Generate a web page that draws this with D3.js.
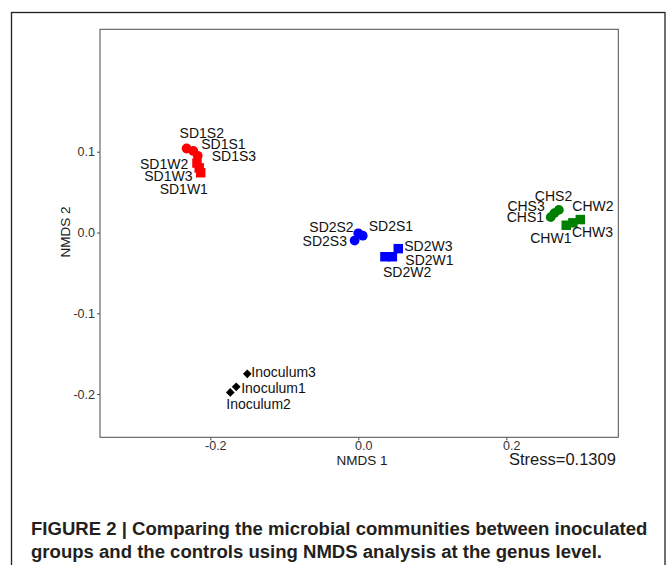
<!DOCTYPE html>
<html>
<head>
<meta charset="utf-8">
<script src="https://cdn.jsdelivr.net/npm/d3@7"></script>
<style>
    body { margin: 0; background: #fff; }
    svg { display: block; font-family: "Liberation Sans", Arial, Helvetica, sans-serif; }
</style>
</head>
<body>
<div id="chart"></div>
<script>
// NMDS scores
const sampleNames = ["SD1S2", "SD1S1", "SD1S3", "SD1W2", "SD1W3", "SD1W1",
                     "SD2S2", "SD2S1", "SD2S3", "SD2W3", "SD2W1", "SD2W2",
                     "CHS2", "CHS3", "CHS1", "CHW2", "CHW3", "CHW1",
                     "Inoculum3", "Inoculum1", "Inoculum2"];
const sampleGroup = ["SD1", "SD1", "SD1", "SD1", "SD1", "SD1",
                     "SD2", "SD2", "SD2", "SD2", "SD2", "SD2",
                     "CH", "CH", "CH", "CH", "CH", "CH",
                     "Inoculum", "Inoculum", "Inoculum"];
const sampleType = ["S", "S", "S", "W", "W", "W",
                    "S", "S", "S", "W", "W", "W",
                    "S", "S", "S", "W", "W", "W",
                    "I", "I", "I"];
const nmds1 = [-0.232, -0.223, -0.217, -0.218, -0.215, -0.213,
               0.000, 0.006, -0.005, 0.054, 0.046, 0.036,
               0.271, 0.265, 0.260, 0.300, 0.290, 0.281,
               -0.150, -0.165, -0.173];
const nmds2 = [0.104, 0.101, 0.095, 0.086, 0.080, 0.074,
               -0.001, -0.004, -0.010, -0.020, -0.030, -0.030,
               0.028, 0.024, 0.019, 0.016, 0.012, 0.009,
               -0.175, -0.191, -0.198];
const xTicks = [-0.2, 0.0, 0.2];
const yTicks = [0.1, 0.0, -0.1, -0.2];
const stressText = "Stress=0.1309";
const captionLines = ["FIGURE 2 | Comparing the microbial communities between inoculated",
                      "groups and the controls using NMDS analysis at the genus level."];

// label placement (pixels from the point, like a repel layout)
const labelDx = [-7, 8, 14, -57, -55, -41,
                 -49, 6, -52, 6, 13, -2,
                 -24, -47, -44, -8, -1, -36,
                 4, 5, -4];
const labelDy = [-10, -2, 5, 6, 13, 21,
                 -1, -5, 5, 2, 8, 20,
                 -9, -2, 5, -9, 14, 18,
                 3, 6, 17];

const groupColor = { SD1: "#ff0000", SD2: "#0000ff", CH: "#008000", Inoculum: "#000000" };

const width = 671, height = 565;
const plot = { left: 100, right: 618.3, top: 29.3, bottom: 437.3 };

const svg = d3.select("#chart")
    .append("svg")
    .attr("width", width)
    .attr("height", height);

svg.append("rect")
    .attr("width", width)
    .attr("height", height)
    .attr("fill", "#fff");

// outer figure frame
svg.append("rect")
    .attr("x", 11.5)
    .attr("y", 12.5)
    .attr("width", 653.5)
    .attr("height", 600)
    .attr("fill", "none")
    .attr("stroke", "#231f20")
    .attr("stroke-width", 1.3);

let x = d3.scaleLinear()
    .domain([-0.34905, 0.35135])
    .range([plot.left, plot.right]);

let y = d3.scaleLinear()
    .domain([-0.25356, 0.25158])
    .range([plot.bottom, plot.top]);

// panel box
svg.append("rect")
    .attr("x", plot.left)
    .attr("y", plot.top)
    .attr("width", plot.right - plot.left)
    .attr("height", plot.bottom - plot.top)
    .attr("fill", "none")
    .attr("stroke", "#4d4d4d")
    .attr("stroke-width", 1);

// plain hyphen for negatives, as in the printed figure
let tickFmt = d => d.toFixed(1);

let xAxis = d3.axisBottom(x)
    .tickValues(xTicks)
    .tickSize(3)
    .tickPadding(2)
    .tickFormat(tickFmt);

let yAxis = d3.axisLeft(y)
    .tickValues(yTicks)
    .tickSize(3)
    .tickPadding(2)
    .tickFormat(tickFmt);

let gx = svg.append("g")
    .attr("class", "axis x-axis")
    .attr("transform", "translate(0," + plot.bottom + ")")
    .call(xAxis);

let gy = svg.append("g")
    .attr("class", "axis y-axis")
    .attr("transform", "translate(" + plot.left + ",0)")
    .call(yAxis);

[gx, gy].forEach(g => {
    g.select(".domain").remove();
    g.selectAll(".tick line").attr("stroke", "#4d4d4d");
    g.selectAll(".tick text")
        .style("font-size", "12.5px")
        .style("font-family", "'Liberation Sans', Arial, sans-serif")
        .attr("fill", "#333");
});
gx.selectAll(".tick text").attr("dx", 5);
gx.selectAll(".tick text").attr("y", 4);
gy.selectAll(".tick text").attr("x", -5);

// axis titles
svg.append("text")
    .attr("x", 362)
    .attr("y", 465)
    .attr("text-anchor", "middle")
    .style("font-size", "13.5px")
    .attr("fill", "#1a1a1a")
    .text("NMDS 1");

svg.append("text")
    .attr("transform", "translate(65,232) rotate(-90)")
    .attr("text-anchor", "middle")
    .attr("dy", "0.35em")
    .style("font-size", "13.5px")
    .attr("fill", "#1a1a1a")
    .text("NMDS 2");

svg.append("text")
    .attr("x", 509)
    .attr("y", 465)
    .style("font-size", "16.5px")
    .attr("fill", "#1a1a1a")
    .text(stressText);

// points
let samples = sampleNames.map((name, i) => ({
    name: name,
    group: sampleGroup[i],
    type: sampleType[i],
    x: nmds1[i],
    y: nmds2[i],
    dx: labelDx[i],
    dy: labelDy[i]
}));

let symbolFor = {
    S: d3.symbol().type(d3.symbolCircle).size(75),
    W: d3.symbol().type(d3.symbolSquare).size(90),
    I: d3.symbol().type(d3.symbolSquare).size(38)
};

svg.selectAll("path.point")
    .data(samples)
    .enter()
    .append("path")
    .attr("class", "point")
    .attr("d", d => symbolFor[d.type]())
    .attr("transform", d => "translate(" + x(d.x) + "," + y(d.y) + ")" + (d.type === "I" ? " rotate(45)" : ""))
    .attr("fill", d => groupColor[d.group]);

svg.selectAll("text.point-label")
    .data(samples)
    .enter()
    .append("text")
    .attr("class", "point-label")
    .attr("x", d => x(d.x) + d.dx)
    .attr("y", d => y(d.y) + d.dy)
    .style("font-size", "14px")
    .attr("fill", "#111")
    .text(d => d.name);

// caption
let caption = svg.append("g")
    .attr("class", "caption")
    .style("font-weight", "bold")
    .attr("fill", "#231f20");

let captionText = caption.selectAll("text")
    .data(captionLines)
    .enter()
    .append("text")
    .attr("x", 31)
    .attr("y", (d, i) => 535 + i * 23)
    .style("font-size", "16px")
    .text(d => d);

// fit the first line to the printed width
let firstLen = captionText.node().getComputedTextLength();
let fitSize = 16 * 617 / firstLen;
captionText.style("font-size", fitSize + "px");
</script>
</body>
</html>
